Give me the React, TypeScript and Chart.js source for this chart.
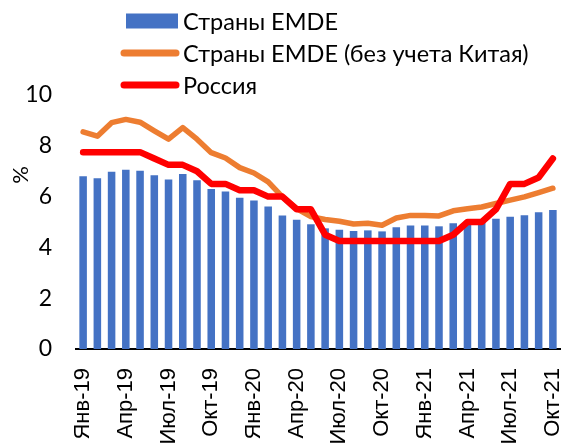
import React, { useEffect, useRef } from "react";
import { Chart, registerables } from "chart.js";

Chart.register(...registerables);

const months: string[] = [
  "Янв-19", "Фев-19", "Мар-19", "Апр-19", "Май-19", "Июн-19", "Июл-19", "Авг-19", "Сен-19", "Окт-19", "Ноя-19", "Дек-19",
  "Янв-20", "Фев-20", "Мар-20", "Апр-20", "Май-20", "Июн-20", "Июл-20", "Авг-20", "Сен-20", "Окт-20", "Ноя-20", "Дек-20",
  "Янв-21", "Фев-21", "Мар-21", "Апр-21", "Май-21", "Июн-21", "Июл-21", "Авг-21", "Сен-21", "Окт-21",
];

const emde: number[] = [
  6.80, 6.72, 6.98, 7.06, 7.02, 6.84, 6.67, 6.89, 6.64, 6.30, 6.20, 5.95,
  5.85, 5.61, 5.26, 5.09, 4.91, 4.75, 4.69, 4.65, 4.67, 4.63, 4.79, 4.86,
  4.86, 4.83, 4.95, 4.99, 5.03, 5.13, 5.21, 5.27, 5.38, 5.47,
];

const emdeExChina: number[] = [
  8.55, 8.38, 8.91, 9.04, 8.93, 8.59, 8.26, 8.72, 8.26, 7.73, 7.52, 7.14,
  6.93, 6.58, 5.99, 5.53, 5.21, 5.10, 5.03, 4.92, 4.95, 4.87, 5.16, 5.26,
  5.26, 5.24, 5.44, 5.52, 5.59, 5.73, 5.86, 5.99, 6.16, 6.33,
];

const russia: number[] = [
  7.75, 7.75, 7.75, 7.75, 7.75, 7.5, 7.25, 7.25, 7.0, 6.5, 6.5, 6.25,
  6.25, 6.0, 6.0, 5.5, 5.5, 4.5, 4.25, 4.25, 4.25, 4.25, 4.25, 4.25,
  4.25, 4.25, 4.5, 5.0, 5.0, 5.5, 6.5, 6.5, 6.75, 7.5,
];

const seriesNames: string[] = ["Страны EMDE", "Страны EMDE (без учета Китая)", "Россия"];
const yTitle = "%";

const BLUE = "#4472C4";
const ORANGE = "#ED7D31";
const RED = "#FF0000";

const legendPlugin = {
  id: "customLegend",
  afterDraw(chart: any) {
    const ctx = chart.ctx as CanvasRenderingContext2D;
    ctx.save();
    const rows = [21, 53, 85];
    const x0 = 126;
    const x1 = 178;
    ctx.font = "23.5px Lato";
    ctx.textBaseline = "middle";
    ctx.textAlign = "left";
    seriesNames.forEach((name, i) => {
      const y = rows[i];
      if (i === 0) {
        ctx.fillStyle = BLUE;
        ctx.fillRect(x0, y - 7.5, x1 - x0, 15);
      } else {
        ctx.strokeStyle = i === 1 ? ORANGE : RED;
        ctx.lineWidth = 7;
        ctx.lineCap = "round";
        ctx.beginPath();
        ctx.moveTo(x0 - 2, y);
        ctx.lineTo(x1 - 2, y);
        ctx.stroke();
      }
      ctx.fillStyle = "#000";
      ctx.fillText(name, 183, y + 1);
    });
    // y axis title
    ctx.translate(21, 175);
    ctx.rotate(-Math.PI / 2);
    ctx.textAlign = "center";
    ctx.font = "22px Lato";
    ctx.fillText(yTitle, 0, 0);
    ctx.restore();
  },
};

export default function App() {
  const ref = useRef<HTMLCanvasElement>(null);

  useEffect(() => {
    if (!ref.current) return;
    const H = 520;
    const chart = new Chart(ref.current, {
      type: "bar",
      data: {
        labels: months,
        datasets: [
          {
            type: "bar",
            label: seriesNames[0],
            data: emde,
            backgroundColor: BLUE,
            barPercentage: 0.53,
            categoryPercentage: 1,
            order: 3,
          },
          {
            type: "line",
            label: seriesNames[1],
            data: emdeExChina,
            borderColor: ORANGE,
            borderWidth: 5.5,
            pointRadius: 0,
            tension: 0,
            borderJoinStyle: "round",
            borderCapStyle: "round",
            order: 2,
          } as any,
          {
            type: "line",
            label: seriesNames[2],
            data: russia,
            borderColor: RED,
            borderWidth: 6.5,
            pointRadius: 0,
            tension: 0,
            borderJoinStyle: "round",
            borderCapStyle: "round",
            order: 1,
          } as any,
        ],
      },
      options: {
        responsive: false,
        animation: false,
        layout: { padding: { top: 95, left: 0, right: 1, bottom: 0 } },
        plugins: {
          legend: { display: false },
          tooltip: { enabled: false },
        },
        scales: {
          x: {
            grid: { display: false, drawTicks: false },
            border: { display: true, color: "#000", width: 2 },
            ticks: {
              autoSkip: false,
              maxRotation: 90,
              minRotation: 90,
              padding: 19,
              color: "#000",
              font: { family: "Liberation Sans", size: 22 },
              callback: (_v: any, i: number) => (i % 3 === 0 ? months[i] : ""),
            },
            afterFit: (scale: any) => {
              scale.height = H - 349;
              scale.paddingLeft = 0;
              scale.paddingRight = 0;
            },
          },
          y: {
            min: 0,
            max: 10,
            grid: { display: false, drawTicks: false },
            border: { display: false },
            ticks: {
              stepSize: 2,
              padding: 24,
              color: "#000",
              font: { family: "Lato", size: 23 },
            },
            afterFit: (scale: any) => {
              scale.width = 76;
            },
          },
        },
      },
      plugins: [legendPlugin],
    });
    return () => chart.destroy();
  }, []);

  return (
    <div style={{ position: "fixed", top: 0, left: 0, width: 561, height: 446, overflow: "hidden", background: "#fff" }}>
      <canvas ref={ref} width={561} height={520} style={{ display: "block" }} />
    </div>
  );
}
